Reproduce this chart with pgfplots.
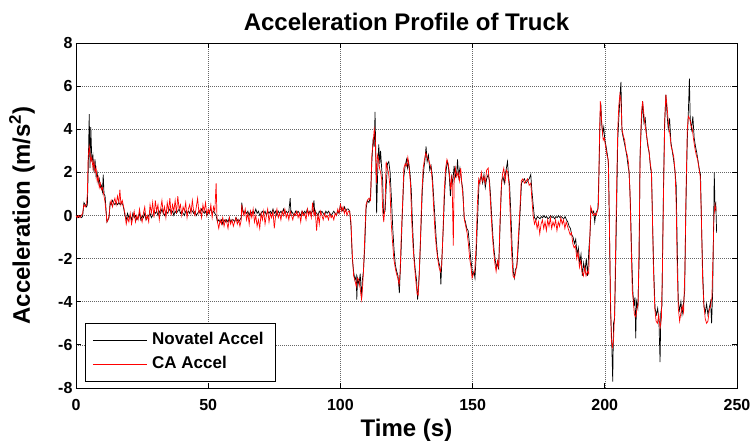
\documentclass[border=0pt]{standalone}
\usepackage{fontspec}
\setmainfont{Liberation Sans}
\usepackage{pgfplots}
\pgfplotsset{compat=1.18}
\begin{document}
\begin{tikzpicture}[x=1pt,y=1pt]
\useasboundingbox (0,0) rectangle (756,445);
\begin{axis}[
  at={(76pt,57pt)}, anchor=south west,
  scale only axis, width=661pt, height=345pt,
  xmin=0, xmax=250, ymin=-8, ymax=8,
  xtick={0,50,...,250}, ytick={-8,-6,...,8},
  tick align=inside, major tick length=5pt,
  xtick pos=both, ytick pos=both,
  axis line style={black, line width=0.8pt},
  tick style={black, line width=0.8pt},
  grid=major,
  grid style={gray!80!black, dash pattern=on 1pt off 1pt, line width=0.6pt},
  /pgf/number format/assume math mode=true,
  ticklabel style={font=\fontsize{16}{19}\selectfont\bfseries},
  xticklabel style={anchor=base, yshift=-22pt},
  title={Acceleration Profile of Truck},
  title style={font=\fontsize{24}{28}\selectfont\bfseries, at={(axis description cs:0.5,1.02)}, anchor=base},
  xlabel={Time (s)},
  xlabel style={font=\fontsize{24}{28}\selectfont\bfseries, at={(axis description cs:0.5,-0.142)}, anchor=base},
  ylabel={Acceleration (m/s\textsuperscript{2})},
  ylabel style={font=\fontsize{24}{28}\selectfont\bfseries, at={(axis description cs:-0.0696,0.5)}, anchor=base},
  legend style={at={(axis description cs:0.0136,0.0174)}, anchor=south west, draw=black, line width=0.8pt, fill=white,
    font=\fontsize{17}{20}\selectfont\bfseries, inner xsep=7pt, inner ysep=6pt, row sep=2pt,
    nodes={inner xsep=5pt, inner ysep=3pt, text height=12pt, text depth=4pt}},
  legend cell align=left,
  legend image code/.code={\draw[#1, line width=0.8pt] (0pt,0pt) -- (54pt,0pt);},
]
\addplot[black, line width=0.7pt] coordinates {
(0,0.0) (0.5,-0.05) (1,-0.1) (1.5,0.0) (2,-0.1) (2.5,-0.05) (3,0.6) (3.5,0.5) (4,0.4) (4.3,0.5) (4.6,2.0) (5.0,4.7) (5.3,2.2) (5.6,4.1) (6.0,2.5) (6.4,2.8) (6.8,2.0) (7.2,2.6) (7.6,1.8) (8,2.0) (8.4,1.5) (8.8,1.7) (9.2,1.3) (9.6,1.4) (10.0,1.1) (10.3,1.9) (10.6,1.0) (11.0,0.9) (11.4,0.2) (11.7,-0.3) (12.1,-0.2) (12.5,-0.1) (12.9,0.6) (13.3,0.5) (13.8,0.7) (14.2,0.6) (14.7,0.5) (15.2,0.6) (15.7,0.5) (16.2,0.6) (16.7,0.5) (17.2,0.6) (17.7,0.5) (18.1,0.3) (18.5,0.0) (19,-0.2) (19.5,0.1) (20,-0.1)
(20.5,0.0) (21,-0.2) (21.5,0.1) (22,-0.1) (22.5,0.0) (23,-0.2) (23.5,-0.1) (24,0.1) (24.5,-0.2) (25,0.0) (25.5,-0.1) (26,0.1) (26.5,-0.2) (27,-0.1) (27.5,0.0) (28,0.1) (28.5,-0.1) (29,0.0) (29.5,0.2) (30,0.1)
(30.5,0.2) (31,0.0) (31.5,0.2) (32,0.1) (32.5,0.3) (33,0.1) (33.5,0.0) (34,0.2) (34.5,0.1) (35,0.2) (35.5,0.3) (36,0.1) (36.5,0.2) (37,0.0) (37.5,0.2) (38,0.1) (38.5,0.2) (39,0.3) (39.5,0.1) (40,0.2) (40.5,0.1) (41,0.0) (41.5,0.2) (42,0.1) (42.5,0.2) (43,0.1) (43.5,0.3) (44,0.2) (44.5,0.1) (45,0.2) (45.5,0.0) (46,0.1) (46.5,0.2) (47,0.1) (47.5,0.3) (48,0.2) (48.5,0.1) (49,0.2) (49.5,0.0) (50,0.1) (50.5,0.2) (51,0.3) (51.5,0.1) (52,0.2) (52.5,0.1) (53,0.0)
(53.5,-0.3) (54,-0.2) (54.5,-0.3) (55,-0.2) (55.5,-0.4) (56,-0.2) (56.5,-0.3) (57,-0.2) (57.5,-0.3) (58,-0.1) (58.5,-0.3) (59,-0.2) (59.5,-0.2) (60,-0.3) (60.5,-0.1) (61,-0.2) (61.5,-0.3) (62,-0.2) (62.5,-0.1)
(62.7,0.6) (63,0.3) (63.5,0.1) (64,0.2) (64.5,0.1) (65,0.2) (65.5,0.0) (66,0.2) (66.5,0.1) (67,0.2) (67.5,0.1) (68,0.3) (68.5,0.1) (69,0.2) (69.5,0.0) (70,0.1) (70.5,0.2) (71,0.1) (71.5,0.2) (72,0.0) (72.5,0.2) (73,0.1) (73.5,0.2) (74,0.1) (74.5,0.3) (75,0.1) (75.5,0.2) (76,0.0) (76.5,0.2) (77,0.1) (77.5,0.2) (78,0.1) (78.5,0.3) (79,0.1) (79.5,0.2) (80,0.1) (80.5,0.2) (81,0.8) (81.3,0.1) (81.5,0.2) (82,0.1) (82.5,0.0) (83,0.2) (83.5,0.1) (84,0.2) (84.5,0.1) (85,0.0) (85.5,0.2) (86,0.1) (86.5,0.2) (87,0.1) (87.5,0.3) (88,0.1) (88.5,0.2) (89,0.1) (89.5,0.2) (90,0.7) (90.3,0.1) (90.5,0.2) (91,0.1) (91.5,0.0) (92,0.2) (92.5,0.1) (93,0.2) (93.5,0.1) (94,0.0) (94.5,0.2) (95,0.1) (95.5,0.2) (96,0.1) (96.5,0.0) (97,0.1) (97.5,0.2) (98,0.1) (98.5,0.0) (99,0.2) (99.5,0.1) (100,0.5) (100.5,0.3) (101,0.2) (101.5,0.4) (102,0.2) (102.5,0.3)
(103.0,0.3) (103.5,0.2) (104.0,-0.5) (104.5,-2.0) (105.0,-2.6) (105.5,-3.0) (106.0,-2.8) (106.2,-3.9) (106.5,-2.9) (107.0,-3.2) (107.5,-2.7) (108.0,-3.9) (108.3,-3.0) (108.7,-2.6) (109.2,-1.5) (109.7,0.3) (110.2,0.7) (110.8,0.6) (111.4,0.9) (111.9,2.5) (112.4,3.6) (112.8,3.2) (113.1,4.8) (113.4,2.8) (113.7,0.1) (114.1,2.0) (114.5,3.3) (114.9,2.4) (115.2,3.0) (115.6,2.2) (116.0,1.6) (116.3,0.1) (116.9,0.2) (117.4,1.5) (117.8,2.4) (118.3,2.5) (118.8,2.0) (119.3,0.8) (119.8,-0.6) (120.3,-1.6) (120.8,-2.3) (121.3,-2.6) (121.8,-2.8) (122.3,-3.6) (122.6,-2.7) (123.0,-1.5) (123.4,0.0) (124.0,1.8) (124.5,2.3) (125.0,2.6) (125.4,2.2) (125.8,2.5) (126.3,2.0) (126.8,1.2) (127.3,-0.5) (127.8,-1.8) (128.3,-2.5) (128.8,-3.0) (129.2,-3.9) (129.6,-3.2) (130.0,-2.2) (130.5,-0.5) (131.0,1.2) (131.5,2.1) (132.0,2.6) (132.4,3.2) (132.8,2.5) (133.3,2.8) (133.8,2.1) (134.3,2.3) (134.8,1.8) (135.3,0.8) (135.8,-0.2) (136.3,-1.2) (136.8,-1.9) (137.3,-2.2) (137.7,-2.4) (138.0,-3.2) (138.4,-2.0) (138.9,-0.6) (139.4,1.0) (139.9,2.0) (140.4,2.5) (140.8,2.3) (141.2,1.8) (141.6,0.9) (142.0,1.8) (142.5,1.5) (143.0,2.3) (143.5,1.8) (144.0,2.0) (144.3,2.6) (144.7,1.8) (145.2,2.2) (145.8,1.6) (146.3,1.2) (146.8,-0.1) (147.3,-0.3) (147.8,-0.6) (148.3,-0.7) (148.8,-1.3) (149.3,-2.0) (149.6,-2.3) (150.0,-2.8) (150.5,-2.6) (150.9,-2.9) (151.3,-2.0) (151.9,-0.1) (152.4,1.4) (152.8,1.7) (153.3,1.8) (153.8,1.5) (154.3,1.9) (154.8,1.3) (155.3,1.7) (155.9,1.9) (156.4,1.6) (156.8,0.9) (157.2,0.0) (157.7,-1.0) (158.2,-1.7) (158.6,-2.1) (159.0,-2.4) (159.4,-2.2) (159.8,-2.5) (160.2,-1.2) (160.6,0.3) (161.0,1.6) (161.5,1.8) (162.0,1.5) (162.5,2.0) (163.2,2.5) (163.6,1.8) (164.0,1.4) (164.5,0.0) (165.0,-1.6) (165.4,-2.6) (165.8,-2.9) (166.2,-2.5) (166.7,-2.4) (167.2,-1.6) (167.9,0.0) (168.5,1.5) (169.0,1.6) (169.6,1.7) (170.2,1.5) (170.8,1.6) (171.4,1.7) (172.0,1.9) (172.4,1.2) (172.9,0.5) (173.4,-0.1) (174.0,-0.2)
(174.5,-0.05) (175,-0.1) (175.5,-0.15) (176,-0.05) (176.5,-0.1) (177,0.0) (177.5,-0.1) (178,-0.05) (178.5,-0.15) (179,-0.1) (179.5,0.0) (180,-0.1) (180.5,-0.05) (181,-0.15) (181.5,-0.05) (182,-0.1) (182.5,0.0) (183,-0.1) (183.5,-0.05) (184,-0.1) (184.5,-0.15) (185,-0.05) (185.5,-0.2)
(186.0,-0.3) (186.5,-0.5) (187.0,-0.6) (187.5,-0.9) (188.0,-1.0) (188.5,-1.3) (189.0,-1.1) (189.5,-1.8) (190.0,-1.5) (190.5,-2.2) (191.0,-1.8) (191.5,-2.8) (192.0,-2.2) (192.5,-2.6) (193.0,-2.0) (193.5,-2.8) (194.0,-1.5) (194.4,-0.9) (194.8,0.3) (195.3,0.1) (195.8,0.2) (196.2,-0.3) (196.6,0.1) (197.0,0.2) (197.4,0.3) (197.8,2.0) (198.2,4.5) (198.5,5.2) (198.8,4.3) (199.2,3.8) (199.6,4.1) (200.0,3.5) (200.5,3.2) (201.0,2.8) (201.4,2.4) (201.8,-1.0) (202.2,-4.5) (202.6,-5.8) (203.0,-7.7) (203.3,-5.0) (203.7,-4.8) (204.0,-3.0) (204.5,0.5) (204.9,3.5) (205.3,4.5) (205.7,5.4) (206.1,6.2) (206.5,3.9) (207.0,3.6) (207.5,3.3) (208.0,3.0) (208.4,2.7) (208.8,2.3) (209.2,2.0) (209.7,0.5) (210.2,-2.0) (210.6,-3.5) (211.0,-4.2) (211.4,-3.8) (211.7,-5.7) (212.0,-4.0) (212.5,-4.3) (213.0,-2.0) (213.3,2.6) (213.8,4.2) (214.3,5.3) (214.8,4.3) (215.3,4.5) (215.8,3.7) (216.3,3.2) (216.8,2.9) (217.3,2.2) (217.7,1.9) (218.1,-0.5) (218.5,-2.5) (219.0,-4.3) (219.5,-4.6) (220.0,-4.3) (220.5,-5.0) (220.9,-6.8) (221.2,-4.5) (221.6,-4.2) (222.1,0.5) (222.6,4.2) (223.1,5.6) (223.6,4.6) (224.0,4.0) (224.5,4.5) (225.0,3.4) (225.5,3.0) (226.0,2.6) (226.5,2.1) (227.0,1.4) (227.4,-1.5) (227.8,-4.0) (228.3,-4.4) (228.8,-4.0) (229.2,-4.6) (229.7,-4.2) (230.2,-3.5) (230.7,0.5) (231.2,3.5) (231.6,4.8) (232.0,6.35) (232.3,4.5) (232.8,4.0) (233.3,4.6) (233.8,3.6) (234.3,3.2) (234.8,2.9) (235.3,2.5) (235.8,2.1) (236.2,1.9) (236.6,-0.5) (237.0,-2.5) (237.5,-4.2) (238.0,-4.5) (238.5,-4.1) (239.0,-4.6) (239.5,-4.3) (240.0,-4.0) (240.4,-5.0) (240.8,-3.5) (241.1,-1.0) (241.4,2.0) (241.7,0.3) (242.0,0.5) (242.3,-0.8)
};
\addlegendentry{Novatel Accel}
\addplot[red, line width=0.7pt] coordinates {
(0,0.0) (0.5,-0.1) (1,0.0) (1.5,-0.1) (2,0.0) (2.5,0.1) (3,0.5) (3.5,0.4) (4,0.5) (4.3,1.0) (4.6,2.7) (5.0,3.2) (5.3,2.9) (5.6,2.5) (6.0,2.7) (6.4,2.2) (6.8,2.5) (7.2,2.0) (7.6,2.2) (8,1.6) (8.4,1.8) (8.8,1.3) (9.2,1.5) (9.6,1.2) (10,1.3) (10.6,0.9) (11,0.6) (11.4,0.1) (11.7,-0.3) (12.1,-0.2) (12.5,0.0) (12.9,0.5) (13.3,0.7) (13.8,0.4) (14.2,0.6) (14.7,0.8) (15.2,0.5) (15.7,0.9) (16.2,0.6) (16.6,1.2) (17.0,0.5) (17.5,0.7) (18.0,0.4) (18.5,0.1) (19,-0.4) (19.5,-0.1) (20,-0.3)
(20.5,0.1) (21,-0.4) (21.5,-0.1) (22,0.2) (22.5,-0.3) (23,0.0) (23.5,-0.2) (24,0.3) (24.5,-0.1) (25,-0.3) (25.5,0.1) (26,0.4) (26.5,-0.2) (27,0.0) (27.5,-0.3) (28,0.5) (28.5,0.1) (29,0.6) (29.5,-0.1) (30,0.7) (30.5,0.2) (31,0.5) (31.5,-0.2) (32,0.3) (32.5,0.7) (33,0.1) (33.5,0.4) (34,-0.1) (34.5,0.6) (35,0.2) (35.5,0.8) (36,0.0) (36.5,0.5) (37,0.2) (37.5,0.7) (38,0.1) (38.5,0.9) (39,0.3) (39.5,0.5) (40,0.0) (40.5,0.4) (41,0.2) (41.5,0.6) (42,-0.1) (42.5,0.3) (43,0.5) (43.5,0.1) (44,0.7) (44.5,0.2) (45,0.0) (45.5,0.4) (46,0.8) (46.5,0.1) (47,0.3) (47.5,-0.1) (48,0.5) (48.5,0.2) (49,0.6) (49.5,0.0) (50,0.3) (50.5,0.1) (51,0.5) (51.5,-0.1) (52,0.4) (52.5,0.2) (53,1.5) (53.3,0.0) (53.5,-0.3)
(54,-0.6) (54.5,-0.2) (55,-0.4) (55.5,-0.1) (56,-0.5) (56.5,-0.2) (57,-0.3) (57.5,-0.6) (58,-0.1) (58.5,-0.4) (59,-0.2) (59.5,-0.5) (60,-0.3) (60.5,-0.1) (61,-0.4) (61.5,-0.2) (62,-0.5) (62.5,-0.2)
(62.7,0.5) (63,0.2) (63.5,0.0) (64,0.3) (64.5,-0.2) (65,0.1) (65.5,-0.4) (66,0.2) (66.5,-0.1) (67,0.3) (67.5,-0.3) (68,0.0) (68.5,-0.5) (69,-0.2) (69.5,-0.6) (70,0.1) (70.5,-0.2) (71,0.2) (71.5,-0.4) (72,0.0) (72.5,0.3) (73,-0.3) (73.5,0.1) (74,-0.1) (74.5,0.2) (75,-0.6) (75.5,0.0) (76,0.3) (76.5,-0.1) (77,0.1) (77.5,-0.2) (78,0.2) (78.5,0.0) (79,0.3) (79.5,-0.1) (80,0.1) (80.5,-0.2) (81,0.2) (81.5,0.0) (82,-0.2) (82.5,0.1) (83,0.0) (83.5,0.2) (84,-0.1) (84.5,0.1) (85,-0.3) (85.5,0.2) (86,0.0) (86.5,0.1) (87,-0.2) (87.5,0.3) (88,0.0) (88.5,0.2) (89,-0.1) (89.5,0.6) (90,0.0) (90.5,0.2) (91,-0.7) (91.5,0.1) (92,-0.4) (92.5,0.2) (93,0.0) (93.5,-0.2) (94,0.1) (94.5,-0.1) (95,0.0) (95.5,-0.2) (96,0.1) (96.5,-0.1) (97,0.0) (97.5,-0.2) (98,0.1) (98.5,0.0) (99,0.3) (99.5,0.1) (100,0.5) (100.5,0.2) (101,0.4) (101.5,0.1) (102,0.3) (102.5,0.0) (103,0.2)
(103.5,0.2) (104.0,-0.3) (104.5,-1.8) (105.0,-2.8) (105.5,-3.0) (106.0,-3.3) (106.5,-2.9) (107.0,-3.0) (107.5,-3.4) (108.0,-3.9) (108.4,-3.3) (108.8,-2.4) (109.2,-1.0) (109.7,0.5) (110.2,0.7) (110.8,0.8) (111.4,0.7) (111.9,2.8) (112.4,3.4) (112.8,4.0) (113.2,3.6) (113.6,1.5) (114.0,2.8) (114.4,2.6) (114.8,2.2) (115.2,2.0) (115.6,1.7) (116.0,0.2) (116.4,-0.3) (116.9,0.5) (117.3,2.5) (117.7,2.2) (118.2,2.0) (118.7,1.4) (119.2,-0.3) (119.7,-1.2) (120.2,-2.0) (120.7,-2.4) (121.2,-2.7) (121.7,-2.9) (122.2,-3.2) (122.6,-2.6) (123.0,-1.0) (123.5,0.5) (124.0,2.2) (124.5,2.4) (125.0,2.3) (125.5,2.7) (126.0,2.2) (126.5,1.5) (127.0,-0.3) (127.5,-1.5) (128.0,-2.3) (128.5,-3.0) (129.0,-3.6) (129.4,-3.7) (129.8,-2.8) (130.3,-1.0) (130.8,1.0) (131.3,2.2) (131.8,2.6) (132.3,2.9) (132.8,2.7) (133.3,2.6) (133.8,2.4) (134.3,2.2) (134.8,1.5) (135.3,0.3) (135.8,-0.8) (136.3,-1.5) (136.8,-2.0) (137.3,-2.4) (137.8,-2.6) (138.3,-2.3) (138.8,-0.8) (139.3,1.2) (139.8,2.2) (140.3,2.6) (140.8,2.4) (141.2,2.0) (141.7,1.2) (142.2,1.9) (142.7,-1.4) (143.0,1.5) (143.5,2.2) (144.0,1.8) (144.5,2.0) (145.0,1.6) (145.5,2.2) (145.9,1.5) (146.4,0.8) (146.9,-0.2) (147.4,-0.5) (147.9,-0.8) (148.4,-1.3) (148.9,-2.0) (149.4,-2.4) (149.8,-2.9) (150.3,-2.7) (150.8,-2.6) (151.3,-1.5) (151.8,0.5) (152.3,1.7) (152.8,1.5) (153.3,2.0) (153.8,1.6) (154.3,1.8) (154.8,1.5) (155.3,2.1) (155.9,2.2) (156.4,1.4) (156.9,0.3) (157.4,-0.8) (157.9,-1.6) (158.4,-2.2) (158.9,-2.6) (159.4,-2.1) (159.9,-2.4) (160.3,-0.5) (160.8,1.2) (161.3,1.9) (161.8,2.2) (162.3,1.6) (162.8,2.1) (163.3,2.0) (163.8,1.4) (164.3,-0.2) (164.8,-1.8) (165.3,-2.8) (165.8,-2.9) (166.3,-2.6) (166.8,-2.2) (167.3,-1.0) (167.9,0.3) (168.4,1.6) (169.0,1.7) (169.6,1.5) (170.2,1.6) (170.8,1.7) (171.4,1.4) (172.0,1.5) (172.4,0.8) (172.9,0.0) (173.4,-0.4) (173.9,-0.2)
(174.4,-0.6) (174.9,-0.3) (175.4,-0.85) (175.9,-0.4) (176.4,-0.2) (176.9,-0.6) (177.4,-0.3) (177.9,-0.7) (178.4,-0.2) (178.9,-0.5) (179.4,-0.1) (179.9,-0.6) (180.4,-0.3) (180.9,-0.5) (181.4,-0.2) (181.9,-0.7) (182.4,-0.3) (182.9,-0.5) (183.4,-0.1) (183.9,-0.4) (184.4,-0.2) (184.9,-0.6) (185.4,-0.3) (185.9,-0.5)
(186.4,-0.7) (186.9,-0.9) (187.4,-0.8) (187.9,-1.3) (188.4,-1.5) (188.9,-1.4) (189.4,-2.0) (189.9,-1.7) (190.4,-2.4) (190.9,-2.1) (191.4,-2.6) (191.9,-2.8) (192.4,-2.4) (192.9,-2.8) (193.4,-2.6) (193.9,-2.7) (194.3,-1.2) (194.7,0.4) (195.2,0.2) (195.7,0.0) (196.2,0.1) (196.7,0.0) (197.2,0.2) (197.6,0.5) (197.9,3.0) (198.3,5.3) (198.6,4.8) (199.0,4.0) (199.4,3.5) (199.8,3.6) (200.3,3.2) (200.8,2.8) (201.3,2.6) (201.7,0.0) (202.1,-3.5) (202.5,-5.8) (202.9,-6.1) (203.3,-5.8) (203.7,-4.5) (204.1,-1.5) (204.5,1.5) (204.9,4.0) (205.3,5.1) (205.7,5.6) (206.1,5.3) (206.5,4.0) (207.0,3.7) (207.5,3.5) (208.0,3.0) (208.5,2.8) (209.0,2.4) (209.5,1.2) (210.0,-1.5) (210.4,-3.5) (210.8,-4.0) (211.2,-4.6) (211.7,-4.7) (212.2,-4.3) (212.6,-4.1) (213.0,-1.0) (213.4,3.0) (213.9,4.8) (214.3,5.3) (214.7,4.8) (215.2,4.2) (215.7,3.8) (216.2,3.4) (216.7,3.0) (217.2,2.4) (217.6,2.1) (218.0,0.0) (218.4,-2.5) (218.9,-4.3) (219.4,-4.9) (219.9,-5.0) (220.4,-4.6) (220.9,-5.2) (221.4,-4.8) (221.8,-2.5) (222.2,1.0) (222.7,4.5) (223.1,5.6) (223.6,5.0) (224.1,4.2) (224.6,3.8) (225.1,3.2) (225.6,3.0) (226.1,2.7) (226.6,2.0) (227.0,0.5) (227.4,-2.5) (227.8,-4.3) (228.3,-4.9) (228.8,-4.5) (229.3,-4.2) (229.8,-4.5) (230.3,-2.5) (230.7,1.0) (231.2,4.0) (231.6,4.6) (232.1,4.5) (232.6,4.2) (233.1,4.0) (233.6,3.5) (234.1,3.1) (234.6,2.8) (235.1,2.6) (235.6,2.2) (236.1,1.8) (236.6,-0.5) (237.0,-3.0) (237.5,-4.2) (238.0,-4.8) (238.5,-5.0) (239.0,-4.9) (239.5,-4.4) (240.0,-4.2) (240.5,-3.8) (240.9,-2.0) (241.3,0.0) (241.7,0.5) (242.1,0.2)
};
\addlegendentry{CA Accel}
\end{axis}
\end{tikzpicture}
\end{document}
